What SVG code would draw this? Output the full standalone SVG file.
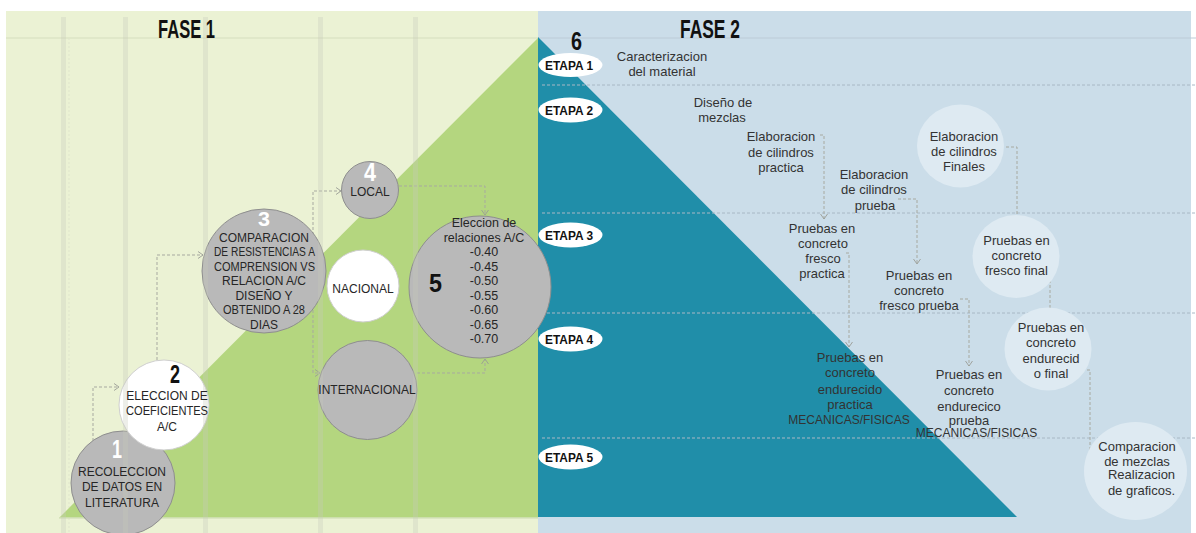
<svg xmlns="http://www.w3.org/2000/svg" width="1196" height="533" viewBox="0 0 1196 533">
<style>
.t{font-family:"Liberation Sans",Arial,sans-serif;font-size:12px;fill:#262626;text-anchor:middle}
.r{font-family:"Liberation Sans",Arial,sans-serif;font-size:13px;fill:#333;text-anchor:middle}
.c5{font-size:12.5px}
.num{font-family:"Liberation Sans",Arial,sans-serif;font-weight:bold;font-size:25px}
.w{fill:#fff}
.k{fill:#111}
.fase{font-family:"Liberation Sans",Arial,sans-serif;font-weight:bold;font-size:26px;fill:#111}
.et{font-family:"Liberation Sans",Arial,sans-serif;font-weight:bold;font-size:13px;fill:#111}
.gc{fill:#b9b9b9;stroke:#8e8e8e;stroke-width:1}
.wc{fill:#fff;stroke:#cfcfcf;stroke-width:1}
.lc{fill:#deeaf2}
.etp{fill:#fff}
.stripe{fill:#c6cbba;opacity:0.32}
.grid{stroke:#a8b8c5;stroke-width:1;stroke-dasharray:3 2;fill:none}
.con{fill:none;stroke:#a7a9a0;stroke-width:1;stroke-dasharray:3 2}
</style>
<defs>
<marker id="arr" viewBox="0 0 6 8" refX="5.5" refY="4" markerWidth="6" markerHeight="8" orient="auto" markerUnits="userSpaceOnUse">
<path d="M0.5,0.5 L5.5,4 L0.5,7.5" fill="none" stroke="#9a9c95" stroke-width="0.9"/>
</marker>
</defs>

<!-- backgrounds -->
<rect x="0" y="0" width="1196" height="533" fill="#ffffff"/>
<rect x="6" y="11" width="532" height="522" fill="#ebf2d4"/>
<rect x="538" y="11" width="653" height="522" fill="#cbdde9"/>
<line x1="6" y1="38" x2="538" y2="38" stroke="#dde4c6" stroke-width="1.5"/>
<line x1="538" y1="38" x2="1196" y2="38" stroke="#bccbd7" stroke-width="1"/>
<line x1="69" y1="38" x2="69" y2="533" stroke="#dfe5cc" stroke-width="1" stroke-dasharray="2 2"/>

<!-- triangles -->
<polygon points="59,518 538,38 538,518" fill="#b4d67f"/>
<line x1="59" y1="518" x2="538" y2="518" stroke="#d6e2bd" stroke-width="1.5"/>
<polygon points="538,37 538,517 1017,517" fill="#208ea9"/>

<!-- grid lines -->
<g id="grid">
<line class="grid" x1="542" y1="85" x2="1196" y2="85"/>
<line class="grid" x1="542" y1="213" x2="1196" y2="213"/>
<line class="grid" x1="542" y1="313" x2="1196" y2="313"/>
<line class="grid" x1="542" y1="438" x2="1196" y2="438"/>
</g>

<!-- connectors -->
<g id="connectors">
<path class="con" d="M93,441 V387 H119" marker-end="url(#arr)"/>
<path class="con" d="M157,360 V255 H203" marker-end="url(#arr)"/>
<path class="con" d="M313,300 V191 H341" marker-end="url(#arr)"/>
<path class="con" d="M313,240 V373 H320" marker-end="url(#arr)"/>
<path class="con" d="M399,186 H485 V215" marker-end="url(#arr)"/>
<path class="con" d="M417,373 H485 V359" marker-end="url(#arr)"/>
<path class="con" d="M820,135 H824 V219" marker-end="url(#arr)"/>
<path class="con" d="M898,199 H917 V264" marker-end="url(#arr)"/>
<path class="con" d="M846,253 H849 V347" marker-end="url(#arr)"/>
<path class="con" d="M960,299 H969 V366" marker-end="url(#arr)"/>
<path class="con" d="M1006,147 H1017 V234" marker-end="url(#arr)"/>
<path class="con" d="M1047,263 H1050 V319" marker-end="url(#arr)"/>
<path class="con" d="M1072,370 H1090 V462 H1100" marker-end="url(#arr)"/>
</g>

<!-- Fase 1 nodes -->
<g id="n1"><circle class="gc" cx="123" cy="483" r="52"/></g>
<g id="n2"><circle class="wc" cx="164" cy="405" r="45"/></g>
<g id="n3"><circle class="gc" cx="264" cy="271" r="62"/></g>
<g id="n4"><circle class="gc" cx="370" cy="190" r="28.5"/></g>
<g id="nNacional"><circle class="wc" cx="363" cy="286" r="36"/></g>
<g id="nInternacional"><circle class="gc" cx="367.5" cy="390" r="49.5"/></g>
<g id="n5"><circle class="gc" cx="480" cy="287" r="71"/></g>

<!-- stripes -->
<g id="stripes">
<rect class="stripe" x="61" y="17" width="5" height="516"/>
<rect class="stripe" x="123" y="17" width="5" height="516"/>
<rect class="stripe" x="203" y="17" width="5" height="516"/>
<rect class="stripe" x="318" y="17" width="5" height="516"/>
<rect class="stripe" x="413" y="17" width="5" height="516"/>
</g>

<!-- Fase 1 texts -->
<text class="fase" x="158" y="38" textLength="57" lengthAdjust="spacingAndGlyphs">FASE 1</text>
<g id="n1-text">
<text class="num w" x="112" y="458" textLength="10" lengthAdjust="spacingAndGlyphs">1</text>
<text class="t" x="122" y="475.5">RECOLECCION</text>
<text class="t" x="122" y="491">DE DATOS EN</text>
<text class="t" x="122" y="506.5">LITERATURA</text>
</g>
<g id="n2-text">
<text class="num k" x="170" y="383" textLength="10" lengthAdjust="spacingAndGlyphs">2</text>
<text class="t" x="167" y="399.5">ELECCION DE</text>
<text class="t" x="126" y="415" style="text-anchor:start" textLength="82" lengthAdjust="spacingAndGlyphs">COEFICIENTES</text>
<text class="t" x="167" y="430.5">A/C</text>
</g>
<g id="n3-text">
<text class="num w" x="258" y="226" style="font-size:20px" textLength="12" lengthAdjust="spacingAndGlyphs">3</text>
<text class="t" x="264" y="241.5">COMPARACION</text>
<text class="t" x="214" y="256" style="text-anchor:start" textLength="101" lengthAdjust="spacingAndGlyphs">DE RESISTENCIAS A</text>
<text class="t" x="214" y="270.5" style="text-anchor:start" textLength="101" lengthAdjust="spacingAndGlyphs">COMPRENSION VS</text>
<text class="t" x="264" y="285">RELACION A/C</text>
<text class="t" x="264" y="299.5">DISEÑO Y</text>
<text class="t" x="223" y="314" style="text-anchor:start" textLength="82" lengthAdjust="spacingAndGlyphs">OBTENIDO A 28</text>
<text class="t" x="264" y="328.5">DIAS</text>
</g>
<g id="n4-text">
<text class="num w" x="364" y="181" textLength="12" lengthAdjust="spacingAndGlyphs">4</text>
<text class="t" x="370" y="196">LOCAL</text>
</g>
<text class="t" x="363" y="293">NACIONAL</text>
<text class="t" x="367" y="394">INTERNACIONAL</text>
<g id="n5-text">
<text class="num k" x="429" y="292" textLength="13" lengthAdjust="spacingAndGlyphs">5</text>
<text class="t c5" x="484" y="227">Eleccion de</text>
<text class="t c5" x="484" y="241.5">relaciones A/C</text>
<text class="t c5" x="484" y="256">-0.40</text>
<text class="t c5" x="484" y="270.5">-0.45</text>
<text class="t c5" x="484" y="285">-0.50</text>
<text class="t c5" x="484" y="299.5">-0.55</text>
<text class="t c5" x="484" y="314">-0.60</text>
<text class="t c5" x="484" y="328.5">-0.65</text>
<text class="t c5" x="484" y="343">-0.70</text>
</g>

<!-- Fase 2 -->
<text class="fase" x="680" y="38" textLength="60" lengthAdjust="spacingAndGlyphs">FASE 2</text>
<text class="num k" x="571" y="50" textLength="11" lengthAdjust="spacingAndGlyphs">6</text>
<g id="etapa1"><ellipse class="etp" cx="570.5" cy="65" rx="32" ry="12"/><text class="et" x="545" y="69.5" textLength="48" lengthAdjust="spacingAndGlyphs">ETAPA 1</text></g>
<g id="etapa2"><ellipse class="etp" cx="570.5" cy="110" rx="32" ry="12.5"/><text class="et" x="545" y="114.5" textLength="48" lengthAdjust="spacingAndGlyphs">ETAPA 2</text></g>
<g id="etapa3"><ellipse class="etp" cx="570.5" cy="235" rx="32" ry="12.5"/><text class="et" x="545" y="239.5" textLength="48" lengthAdjust="spacingAndGlyphs">ETAPA 3</text></g>
<g id="etapa4"><ellipse class="etp" cx="570.5" cy="339" rx="32" ry="12.5"/><text class="et" x="545" y="343.5" textLength="48" lengthAdjust="spacingAndGlyphs">ETAPA 4</text></g>
<g id="etapa5"><ellipse class="etp" cx="570.5" cy="457" rx="32" ry="12.5"/><text class="et" x="545" y="461.5" textLength="48" lengthAdjust="spacingAndGlyphs">ETAPA 5</text></g>

<g id="caracterizacion">
<text class="r" x="662" y="61">Caracterizacion</text>
<text class="r" x="662" y="76">del material</text>
</g>
<g id="diseno">
<text class="r" x="723" y="107">Diseño de</text>
<text class="r" x="722" y="122">mezclas</text>
</g>
<g id="elab-practica">
<text class="r" x="781" y="141">Elaboracion</text>
<text class="r" x="781" y="156.5">de cilindros</text>
<text class="r" x="781" y="172">practica</text>
</g>
<g id="elab-prueba">
<text class="r" x="874" y="178.5">Elaboracion</text>
<text class="r" x="874" y="193.5">de cilindros</text>
<text class="r" x="875" y="209.5">prueba</text>
</g>
<g id="elab-finales">
<ellipse class="lc" cx="960.5" cy="146" rx="43.5" ry="41.5"/>
<text class="r" x="964" y="141">Elaboracion</text>
<text class="r" x="964" y="156">de cilindros</text>
<text class="r" x="964" y="171">Finales</text>
</g>
<g id="fresco-practica">
<text class="r" x="822" y="232.5">Pruebas en</text>
<text class="r" x="823" y="247.5">concreto</text>
<text class="r" x="823" y="262.5">fresco</text>
<text class="r" x="822" y="277.5">practica</text>
</g>
<g id="fresco-prueba">
<text class="r" x="919" y="279.5">Pruebas en</text>
<text class="r" x="919" y="295">concreto</text>
<text class="r" x="919" y="310">fresco prueba</text>
</g>
<g id="fresco-final">
<ellipse class="lc" cx="1016" cy="256.5" rx="43.5" ry="41.5"/>
<text class="r" x="1016.5" y="244.5">Pruebas en</text>
<text class="r" x="1016.5" y="260">concreto</text>
<text class="r" x="1016.5" y="275">fresco final</text>
</g>
<g id="endurecido-final">
<ellipse class="lc" cx="1048" cy="349" rx="43.5" ry="41.5"/>
<text class="r" x="1051" y="332">Pruebas en</text>
<text class="r" x="1051" y="347">concreto</text>
<text class="r" x="1051" y="362.5">endurecid</text>
<text class="r" x="1051" y="377.5">o final</text>
</g>
<g id="endurecido-practica">
<text class="r" x="850" y="361.5">Pruebas en</text>
<text class="r" x="850" y="377">concreto</text>
<text class="r" x="850" y="393.5">endurecido</text>
<text class="r" x="850" y="408.5">practica</text>
<text class="r" x="849" y="423.5" style="font-size:12px">MECANICAS/FISICAS</text>
</g>
<g id="endurecido-prueba">
<text class="r" x="969" y="378.5">Pruebas en</text>
<text class="r" x="969" y="394.5">concreto</text>
<text class="r" x="969" y="410.5">endurecico</text>
<text class="r" x="969" y="425">prueba</text>
<text class="r" x="976.5" y="437" style="font-size:12px">MECANICAS/FISICAS</text>
</g>
<g id="comparacion">
<ellipse class="lc" cx="1135.5" cy="471" rx="51.5" ry="49"/>
<text class="r" x="1137" y="450.5">Comparacion</text>
<text class="r" x="1137" y="465.5">de mezclas</text>
<text class="r" x="1141.5" y="479">Realizacion</text>
<text class="r" x="1141.5" y="494.5">de graficos.</text>
</g>
</svg>
